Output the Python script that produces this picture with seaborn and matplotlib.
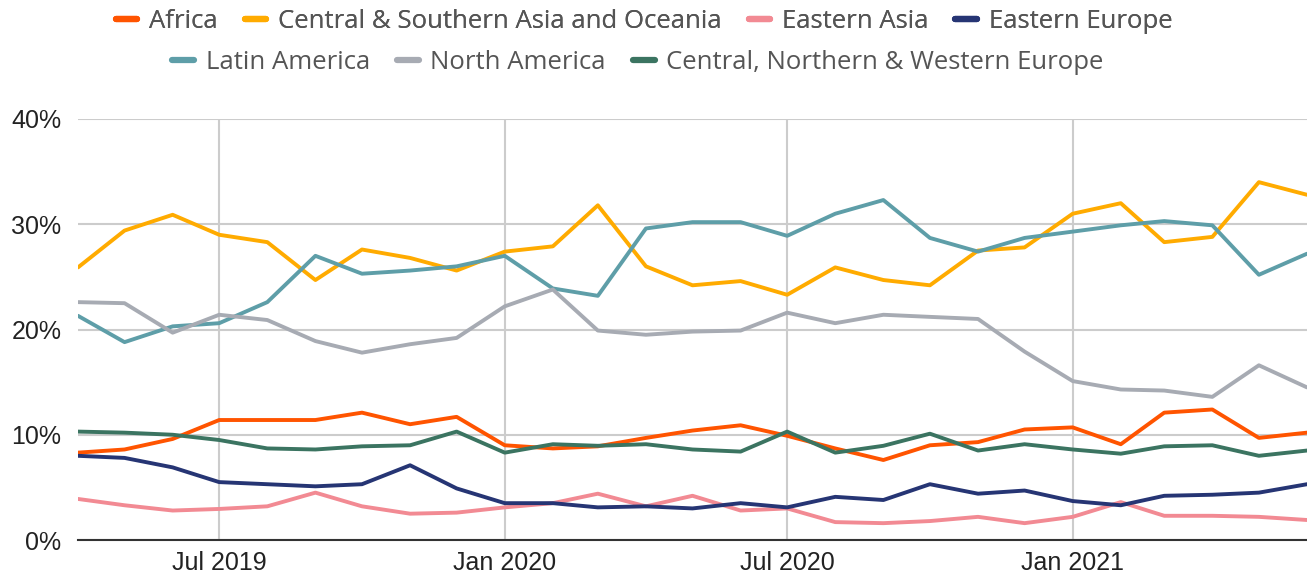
import pandas as pd
import matplotlib.pyplot as plt
import matplotlib.dates as mdates
from matplotlib.lines import Line2D
from matplotlib.ticker import FuncFormatter
import seaborn as sns

# --- Data (monthly share, %) ---
months = pd.date_range('2019-04-01', '2021-06-01', freq='MS')

africa = [8.3, 8.6, 9.6, 11.4, 11.4, 11.4, 12.1, 11.0, 11.7, 9.0, 8.7, 8.9, 9.7,
          10.4, 10.9, 9.9, 8.7, 7.6, 9.0, 9.3, 10.5, 10.7, 9.1, 12.1, 12.4, 9.7, 10.2]
cs_asia_oceania = [25.9, 29.4, 30.9, 29.0, 28.3, 24.7, 27.6, 26.8, 25.6, 27.4, 27.9, 31.8, 26.0,
                   24.2, 24.6, 23.3, 25.9, 24.7, 24.2, 27.5, 27.8, 31.0, 32.0, 28.3, 28.8, 34.0, 32.8]
eastern_asia = [3.9, 3.3, 2.8, 2.95, 3.2, 4.5, 3.2, 2.5, 2.6, 3.1, 3.5, 4.4, 3.2,
                4.2, 2.8, 3.0, 1.7, 1.6, 1.8, 2.2, 1.6, 2.2, 3.6, 2.3, 2.3, 2.2, 1.9]
eastern_europe = [8.0, 7.8, 6.9, 5.5, 5.3, 5.1, 5.3, 7.1, 4.9, 3.5, 3.5, 3.1, 3.2,
                  3.0, 3.5, 3.1, 4.1, 3.8, 5.3, 4.4, 4.7, 3.7, 3.3, 4.2, 4.3, 4.5, 5.3]
latin_america = [21.3, 18.8, 20.3, 20.6, 22.6, 27.0, 25.3, 25.6, 26.0, 27.0, 23.9, 23.2, 29.6,
                 30.2, 30.2, 28.9, 31.0, 32.3, 28.7, 27.4, 28.7, 29.3, 29.9, 30.3, 29.9, 25.2, 27.2]
north_america = [22.6, 22.5, 19.7, 21.4, 20.9, 18.9, 17.8, 18.6, 19.2, 22.2, 23.8, 19.9, 19.5,
                  19.8, 19.9, 21.6, 20.6, 21.4, 21.2, 21.0, 17.9, 15.1, 14.3, 14.2, 13.6, 16.6, 14.5]
cnw_europe = [10.3, 10.2, 10.0, 9.5, 8.7, 8.6, 8.9, 9.0, 10.3, 8.3, 9.1, 8.95, 9.1,
              8.6, 8.4, 10.3, 8.3, 8.95, 10.1, 8.5, 9.1, 8.6, 8.2, 8.9, 9.0, 8.0, 8.5]

regions = ['Africa', 'Central & Southern Asia and Oceania', 'Eastern Asia', 'Eastern Europe',
           'Latin America', 'North America', 'Central, Northern & Western Europe']
series = [africa, cs_asia_oceania, eastern_asia, eastern_europe,
          latin_america, north_america, cnw_europe]
colors = ['#ff5400', '#ffab00', '#f28a93', '#263574', '#5e9ea8', '#a7abb3', '#3b7461']

df = pd.concat([pd.DataFrame({'Month': months, 'Share': vals, 'Region': name})
                for name, vals in zip(regions, series)], ignore_index=True)

# --- Plot ---
sns.set_style('white')
plt.rcParams['font.family'] = ['Liberation Sans', 'DejaVu Sans']

fig = plt.figure(figsize=(13.07, 5.79), dpi=100)
ax = fig.add_axes([78 / 1307, 1 - 540 / 579, 1 - 78 / 1307, (540 - 119) / 579])

sns.lineplot(data=df, x='Month', y='Share', hue='Region', hue_order=regions,
             palette=dict(zip(regions, colors)), linewidth=2.8, legend=False, ax=ax)

ax.set_xlim(months[0], months[-1])
ax.set_ylim(0, 40)
ax.set_yticks([0, 10, 20, 30, 40])
ax.yaxis.set_major_formatter(FuncFormatter(lambda v, _: f'{v:.0f}%'))
ax.set_xticks(pd.to_datetime(['2019-07-01', '2020-01-01', '2020-07-01', '2021-01-01']))
ax.xaxis.set_major_formatter(mdates.DateFormatter('%b %Y'))
ax.set_xlabel('')
ax.set_ylabel('')
ax.tick_params(axis='both', length=0, labelsize=18, colors='#222222')
ax.tick_params(axis='y', pad=12)
ax.tick_params(axis='x', pad=8)

ax.grid(True, color='#cccccc', linewidth=1.5)
ax.set_axisbelow(True)
for side in ['top', 'right', 'left']:
    ax.spines[side].set_visible(False)
ax.spines['bottom'].set_color('#333333')
ax.spines['bottom'].set_linewidth(1.5)

handles = [Line2D([0], [0], color=c, linewidth=4.5) for c in colors]
legend_font = {'family': ['Open Sans', 'DejaVu Sans'], 'size': 18.5}
row1 = fig.legend(handles[:4], regions[:4], loc='center', bbox_to_anchor=(644 / 1307, 1 - 21 / 579),
                  ncol=4, frameon=False, prop=legend_font, handlelength=0.85,
                  handletextpad=0.45, columnspacing=1.05, labelcolor='#555555')
row2 = fig.legend(handles[4:], regions[4:], loc='center', bbox_to_anchor=(638 / 1307, 1 - 62 / 579),
                  ncol=3, frameon=False, prop=legend_font, handlelength=0.85,
                  handletextpad=0.45, columnspacing=1.05, labelcolor='#555555')
fig.add_artist(row1)

fig.savefig('out.png', dpi=100)
